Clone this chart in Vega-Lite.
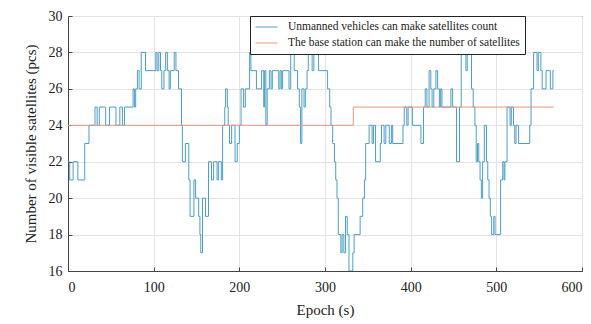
{
  "$schema": "https://vega.github.io/schema/vega-lite/v6.json",
  "width": 514,
  "height": 255,
  "autosize": {"type": "none"},
  "padding": {"left": 68, "top": 16, "right": 9, "bottom": 53},
  "background": "white",
  "config": {
    "view": {"stroke": "#333", "strokeWidth": 1},
    "font": "Liberation Serif",
    "axis": {
      "labelFont": "Liberation Serif",
      "titleFont": "Liberation Serif",
      "labelFontSize": 14,
      "titleFontSize": 15,
      "titleFontWeight": "normal",
      "labelColor": "#222",
      "titleColor": "#222",
      "gridColor": "#e3e3e3",
      "domainColor": "#444",
      "tickColor": "#444",
      "tickSize": -4,
      "labelPadding": 10
    },
    "legend": {
      "labelFont": "Liberation Serif",
      "labelFontSize": 11,
      "labelColor": "#222"
    }
  },
  "data": {
    "values": [
      {"epoch": 0, "count": 22, "series": "Unmanned vehicles can make satellites count"},
      {"epoch": 2, "count": 21, "series": "Unmanned vehicles can make satellites count"},
      {"epoch": 6, "count": 22, "series": "Unmanned vehicles can make satellites count"},
      {"epoch": 11.5, "count": 21, "series": "Unmanned vehicles can make satellites count"},
      {"epoch": 19.5, "count": 23, "series": "Unmanned vehicles can make satellites count"},
      {"epoch": 24.5, "count": 24, "series": "Unmanned vehicles can make satellites count"},
      {"epoch": 31.5, "count": 25, "series": "Unmanned vehicles can make satellites count"},
      {"epoch": 34, "count": 24, "series": "Unmanned vehicles can make satellites count"},
      {"epoch": 36.5, "count": 25, "series": "Unmanned vehicles can make satellites count"},
      {"epoch": 44, "count": 24, "series": "Unmanned vehicles can make satellites count"},
      {"epoch": 48.5, "count": 25, "series": "Unmanned vehicles can make satellites count"},
      {"epoch": 56, "count": 24, "series": "Unmanned vehicles can make satellites count"},
      {"epoch": 60.5, "count": 25, "series": "Unmanned vehicles can make satellites count"},
      {"epoch": 63.5, "count": 24, "series": "Unmanned vehicles can make satellites count"},
      {"epoch": 66, "count": 25, "series": "Unmanned vehicles can make satellites count"},
      {"epoch": 76, "count": 26, "series": "Unmanned vehicles can make satellites count"},
      {"epoch": 77.5, "count": 25, "series": "Unmanned vehicles can make satellites count"},
      {"epoch": 79, "count": 26, "series": "Unmanned vehicles can make satellites count"},
      {"epoch": 81, "count": 27, "series": "Unmanned vehicles can make satellites count"},
      {"epoch": 83, "count": 26, "series": "Unmanned vehicles can make satellites count"},
      {"epoch": 85.5, "count": 28, "series": "Unmanned vehicles can make satellites count"},
      {"epoch": 90.5, "count": 27, "series": "Unmanned vehicles can make satellites count"},
      {"epoch": 102.5, "count": 28, "series": "Unmanned vehicles can make satellites count"},
      {"epoch": 104, "count": 27, "series": "Unmanned vehicles can make satellites count"},
      {"epoch": 106, "count": 28, "series": "Unmanned vehicles can make satellites count"},
      {"epoch": 108, "count": 27, "series": "Unmanned vehicles can make satellites count"},
      {"epoch": 109.5, "count": 26, "series": "Unmanned vehicles can make satellites count"},
      {"epoch": 112, "count": 27, "series": "Unmanned vehicles can make satellites count"},
      {"epoch": 114, "count": 28, "series": "Unmanned vehicles can make satellites count"},
      {"epoch": 116, "count": 27, "series": "Unmanned vehicles can make satellites count"},
      {"epoch": 118, "count": 26, "series": "Unmanned vehicles can make satellites count"},
      {"epoch": 119.5, "count": 27, "series": "Unmanned vehicles can make satellites count"},
      {"epoch": 124, "count": 28, "series": "Unmanned vehicles can make satellites count"},
      {"epoch": 126, "count": 27, "series": "Unmanned vehicles can make satellites count"},
      {"epoch": 129, "count": 26, "series": "Unmanned vehicles can make satellites count"},
      {"epoch": 132.5, "count": 24, "series": "Unmanned vehicles can make satellites count"},
      {"epoch": 133.5, "count": 22, "series": "Unmanned vehicles can make satellites count"},
      {"epoch": 137, "count": 23, "series": "Unmanned vehicles can make satellites count"},
      {"epoch": 141, "count": 21, "series": "Unmanned vehicles can make satellites count"},
      {"epoch": 142.5, "count": 19, "series": "Unmanned vehicles can make satellites count"},
      {"epoch": 147, "count": 21, "series": "Unmanned vehicles can make satellites count"},
      {"epoch": 149, "count": 20, "series": "Unmanned vehicles can make satellites count"},
      {"epoch": 152.5, "count": 19, "series": "Unmanned vehicles can make satellites count"},
      {"epoch": 154, "count": 18, "series": "Unmanned vehicles can make satellites count"},
      {"epoch": 155, "count": 17, "series": "Unmanned vehicles can make satellites count"},
      {"epoch": 157, "count": 20, "series": "Unmanned vehicles can make satellites count"},
      {"epoch": 160.5, "count": 19, "series": "Unmanned vehicles can make satellites count"},
      {"epoch": 164, "count": 22, "series": "Unmanned vehicles can make satellites count"},
      {"epoch": 167.5, "count": 21, "series": "Unmanned vehicles can make satellites count"},
      {"epoch": 170, "count": 22, "series": "Unmanned vehicles can make satellites count"},
      {"epoch": 174, "count": 21, "series": "Unmanned vehicles can make satellites count"},
      {"epoch": 175.5, "count": 22, "series": "Unmanned vehicles can make satellites count"},
      {"epoch": 179, "count": 21, "series": "Unmanned vehicles can make satellites count"},
      {"epoch": 180.5, "count": 24, "series": "Unmanned vehicles can make satellites count"},
      {"epoch": 183, "count": 25, "series": "Unmanned vehicles can make satellites count"},
      {"epoch": 184, "count": 26, "series": "Unmanned vehicles can make satellites count"},
      {"epoch": 186, "count": 25, "series": "Unmanned vehicles can make satellites count"},
      {"epoch": 187, "count": 24, "series": "Unmanned vehicles can make satellites count"},
      {"epoch": 188.5, "count": 23, "series": "Unmanned vehicles can make satellites count"},
      {"epoch": 191, "count": 24, "series": "Unmanned vehicles can make satellites count"},
      {"epoch": 195, "count": 22, "series": "Unmanned vehicles can make satellites count"},
      {"epoch": 197.5, "count": 23, "series": "Unmanned vehicles can make satellites count"},
      {"epoch": 200, "count": 24, "series": "Unmanned vehicles can make satellites count"},
      {"epoch": 202, "count": 26, "series": "Unmanned vehicles can make satellites count"},
      {"epoch": 205, "count": 25, "series": "Unmanned vehicles can make satellites count"},
      {"epoch": 207, "count": 26, "series": "Unmanned vehicles can make satellites count"},
      {"epoch": 212, "count": 28, "series": "Unmanned vehicles can make satellites count"},
      {"epoch": 213.5, "count": 27, "series": "Unmanned vehicles can make satellites count"},
      {"epoch": 220, "count": 26, "series": "Unmanned vehicles can make satellites count"},
      {"epoch": 226, "count": 27, "series": "Unmanned vehicles can make satellites count"},
      {"epoch": 228.5, "count": 25, "series": "Unmanned vehicles can make satellites count"},
      {"epoch": 229.5, "count": 27, "series": "Unmanned vehicles can make satellites count"},
      {"epoch": 231, "count": 24, "series": "Unmanned vehicles can make satellites count"},
      {"epoch": 232.5, "count": 26, "series": "Unmanned vehicles can make satellites count"},
      {"epoch": 235, "count": 27, "series": "Unmanned vehicles can make satellites count"},
      {"epoch": 237, "count": 26, "series": "Unmanned vehicles can make satellites count"},
      {"epoch": 238.5, "count": 27, "series": "Unmanned vehicles can make satellites count"},
      {"epoch": 246, "count": 26, "series": "Unmanned vehicles can make satellites count"},
      {"epoch": 247.5, "count": 27, "series": "Unmanned vehicles can make satellites count"},
      {"epoch": 249, "count": 26, "series": "Unmanned vehicles can make satellites count"},
      {"epoch": 250.5, "count": 27, "series": "Unmanned vehicles can make satellites count"},
      {"epoch": 258, "count": 26, "series": "Unmanned vehicles can make satellites count"},
      {"epoch": 260, "count": 28, "series": "Unmanned vehicles can make satellites count"},
      {"epoch": 264, "count": 27, "series": "Unmanned vehicles can make satellites count"},
      {"epoch": 268, "count": 26, "series": "Unmanned vehicles can make satellites count"},
      {"epoch": 270, "count": 25, "series": "Unmanned vehicles can make satellites count"},
      {"epoch": 271.5, "count": 23, "series": "Unmanned vehicles can make satellites count"},
      {"epoch": 273, "count": 26, "series": "Unmanned vehicles can make satellites count"},
      {"epoch": 275.5, "count": 25, "series": "Unmanned vehicles can make satellites count"},
      {"epoch": 277, "count": 26, "series": "Unmanned vehicles can make satellites count"},
      {"epoch": 279, "count": 27, "series": "Unmanned vehicles can make satellites count"},
      {"epoch": 280.5, "count": 28, "series": "Unmanned vehicles can make satellites count"},
      {"epoch": 285, "count": 27, "series": "Unmanned vehicles can make satellites count"},
      {"epoch": 287, "count": 28, "series": "Unmanned vehicles can make satellites count"},
      {"epoch": 292.5, "count": 27, "series": "Unmanned vehicles can make satellites count"},
      {"epoch": 303, "count": 26, "series": "Unmanned vehicles can make satellites count"},
      {"epoch": 305.5, "count": 25, "series": "Unmanned vehicles can make satellites count"},
      {"epoch": 307, "count": 24, "series": "Unmanned vehicles can make satellites count"},
      {"epoch": 309, "count": 23, "series": "Unmanned vehicles can make satellites count"},
      {"epoch": 311, "count": 22, "series": "Unmanned vehicles can make satellites count"},
      {"epoch": 312.5, "count": 21, "series": "Unmanned vehicles can make satellites count"},
      {"epoch": 314, "count": 20, "series": "Unmanned vehicles can make satellites count"},
      {"epoch": 315.5, "count": 18, "series": "Unmanned vehicles can make satellites count"},
      {"epoch": 318.5, "count": 17, "series": "Unmanned vehicles can make satellites count"},
      {"epoch": 320, "count": 18, "series": "Unmanned vehicles can make satellites count"},
      {"epoch": 322, "count": 17, "series": "Unmanned vehicles can make satellites count"},
      {"epoch": 324, "count": 19, "series": "Unmanned vehicles can make satellites count"},
      {"epoch": 326, "count": 18, "series": "Unmanned vehicles can make satellites count"},
      {"epoch": 328, "count": 16, "series": "Unmanned vehicles can make satellites count"},
      {"epoch": 332.5, "count": 17, "series": "Unmanned vehicles can make satellites count"},
      {"epoch": 334, "count": 18, "series": "Unmanned vehicles can make satellites count"},
      {"epoch": 341, "count": 19, "series": "Unmanned vehicles can make satellites count"},
      {"epoch": 344, "count": 20, "series": "Unmanned vehicles can make satellites count"},
      {"epoch": 346, "count": 21, "series": "Unmanned vehicles can make satellites count"},
      {"epoch": 347.5, "count": 23, "series": "Unmanned vehicles can make satellites count"},
      {"epoch": 351.5, "count": 24, "series": "Unmanned vehicles can make satellites count"},
      {"epoch": 355, "count": 23, "series": "Unmanned vehicles can make satellites count"},
      {"epoch": 356.5, "count": 24, "series": "Unmanned vehicles can make satellites count"},
      {"epoch": 359, "count": 22, "series": "Unmanned vehicles can make satellites count"},
      {"epoch": 364.5, "count": 23, "series": "Unmanned vehicles can make satellites count"},
      {"epoch": 366, "count": 24, "series": "Unmanned vehicles can make satellites count"},
      {"epoch": 369, "count": 23, "series": "Unmanned vehicles can make satellites count"},
      {"epoch": 371, "count": 24, "series": "Unmanned vehicles can make satellites count"},
      {"epoch": 375, "count": 23, "series": "Unmanned vehicles can make satellites count"},
      {"epoch": 377.5, "count": 24, "series": "Unmanned vehicles can make satellites count"},
      {"epoch": 379, "count": 23, "series": "Unmanned vehicles can make satellites count"},
      {"epoch": 391, "count": 24, "series": "Unmanned vehicles can make satellites count"},
      {"epoch": 392.5, "count": 25, "series": "Unmanned vehicles can make satellites count"},
      {"epoch": 395.5, "count": 24, "series": "Unmanned vehicles can make satellites count"},
      {"epoch": 397, "count": 25, "series": "Unmanned vehicles can make satellites count"},
      {"epoch": 402, "count": 24, "series": "Unmanned vehicles can make satellites count"},
      {"epoch": 412, "count": 23, "series": "Unmanned vehicles can make satellites count"},
      {"epoch": 415, "count": 25, "series": "Unmanned vehicles can make satellites count"},
      {"epoch": 417, "count": 26, "series": "Unmanned vehicles can make satellites count"},
      {"epoch": 419, "count": 25, "series": "Unmanned vehicles can make satellites count"},
      {"epoch": 421.5, "count": 27, "series": "Unmanned vehicles can make satellites count"},
      {"epoch": 423.5, "count": 26, "series": "Unmanned vehicles can make satellites count"},
      {"epoch": 425, "count": 25, "series": "Unmanned vehicles can make satellites count"},
      {"epoch": 427, "count": 26, "series": "Unmanned vehicles can make satellites count"},
      {"epoch": 429.5, "count": 27, "series": "Unmanned vehicles can make satellites count"},
      {"epoch": 431.5, "count": 26, "series": "Unmanned vehicles can make satellites count"},
      {"epoch": 433.5, "count": 25, "series": "Unmanned vehicles can make satellites count"},
      {"epoch": 435, "count": 26, "series": "Unmanned vehicles can make satellites count"},
      {"epoch": 436.5, "count": 25, "series": "Unmanned vehicles can make satellites count"},
      {"epoch": 447, "count": 26, "series": "Unmanned vehicles can make satellites count"},
      {"epoch": 449, "count": 25, "series": "Unmanned vehicles can make satellites count"},
      {"epoch": 453.5, "count": 22, "series": "Unmanned vehicles can make satellites count"},
      {"epoch": 457, "count": 25, "series": "Unmanned vehicles can make satellites count"},
      {"epoch": 459, "count": 28, "series": "Unmanned vehicles can make satellites count"},
      {"epoch": 464.5, "count": 27, "series": "Unmanned vehicles can make satellites count"},
      {"epoch": 466, "count": 28, "series": "Unmanned vehicles can make satellites count"},
      {"epoch": 471, "count": 26, "series": "Unmanned vehicles can make satellites count"},
      {"epoch": 473, "count": 25, "series": "Unmanned vehicles can make satellites count"},
      {"epoch": 475, "count": 24, "series": "Unmanned vehicles can make satellites count"},
      {"epoch": 476.5, "count": 22, "series": "Unmanned vehicles can make satellites count"},
      {"epoch": 478, "count": 23, "series": "Unmanned vehicles can make satellites count"},
      {"epoch": 479.5, "count": 22, "series": "Unmanned vehicles can make satellites count"},
      {"epoch": 481, "count": 21, "series": "Unmanned vehicles can make satellites count"},
      {"epoch": 482.5, "count": 20, "series": "Unmanned vehicles can make satellites count"},
      {"epoch": 484, "count": 22, "series": "Unmanned vehicles can make satellites count"},
      {"epoch": 486, "count": 24, "series": "Unmanned vehicles can make satellites count"},
      {"epoch": 488.5, "count": 22, "series": "Unmanned vehicles can make satellites count"},
      {"epoch": 490, "count": 21, "series": "Unmanned vehicles can make satellites count"},
      {"epoch": 491.5, "count": 20, "series": "Unmanned vehicles can make satellites count"},
      {"epoch": 493, "count": 19, "series": "Unmanned vehicles can make satellites count"},
      {"epoch": 494.5, "count": 18, "series": "Unmanned vehicles can make satellites count"},
      {"epoch": 497, "count": 19, "series": "Unmanned vehicles can make satellites count"},
      {"epoch": 498.5, "count": 18, "series": "Unmanned vehicles can make satellites count"},
      {"epoch": 505, "count": 21, "series": "Unmanned vehicles can make satellites count"},
      {"epoch": 507.5, "count": 22, "series": "Unmanned vehicles can make satellites count"},
      {"epoch": 509, "count": 21, "series": "Unmanned vehicles can make satellites count"},
      {"epoch": 510, "count": 22, "series": "Unmanned vehicles can make satellites count"},
      {"epoch": 512.5, "count": 25, "series": "Unmanned vehicles can make satellites count"},
      {"epoch": 516, "count": 24, "series": "Unmanned vehicles can make satellites count"},
      {"epoch": 517.5, "count": 25, "series": "Unmanned vehicles can make satellites count"},
      {"epoch": 520, "count": 24, "series": "Unmanned vehicles can make satellites count"},
      {"epoch": 521.5, "count": 23, "series": "Unmanned vehicles can make satellites count"},
      {"epoch": 523, "count": 24, "series": "Unmanned vehicles can make satellites count"},
      {"epoch": 526, "count": 23, "series": "Unmanned vehicles can make satellites count"},
      {"epoch": 539, "count": 24, "series": "Unmanned vehicles can make satellites count"},
      {"epoch": 540.5, "count": 26, "series": "Unmanned vehicles can make satellites count"},
      {"epoch": 543.5, "count": 28, "series": "Unmanned vehicles can make satellites count"},
      {"epoch": 547.5, "count": 27, "series": "Unmanned vehicles can make satellites count"},
      {"epoch": 549, "count": 28, "series": "Unmanned vehicles can make satellites count"},
      {"epoch": 552, "count": 27, "series": "Unmanned vehicles can make satellites count"},
      {"epoch": 553.5, "count": 26, "series": "Unmanned vehicles can make satellites count"},
      {"epoch": 558, "count": 27, "series": "Unmanned vehicles can make satellites count"},
      {"epoch": 563, "count": 26, "series": "Unmanned vehicles can make satellites count"},
      {"epoch": 566, "count": 27, "series": "Unmanned vehicles can make satellites count"},
      {"epoch": 567, "count": 27, "series": "Unmanned vehicles can make satellites count"},
      {"epoch": 0, "count": 24, "series": "The base station can make the number of satellites"},
      {"epoch": 333, "count": 25, "series": "The base station can make the number of satellites"},
      {"epoch": 567, "count": 25, "series": "The base station can make the number of satellites"}
    ]
  },
  "mark": {"type": "line", "interpolate": "step-after", "strokeWidth": 1, "clip": true},
  "encoding": {
    "x": {
      "field": "epoch",
      "type": "quantitative",
      "scale": {"domain": [0, 600], "nice": false},
      "axis": {"values": [0, 100, 200, 300, 400, 500, 600], "title": "Epoch (s)", "titlePadding": 8, "labelPadding": 13}
    },
    "y": {
      "field": "count",
      "type": "quantitative",
      "scale": {"domain": [16, 30], "nice": false, "zero": false},
      "axis": {"values": [16, 18, 20, 22, 24, 26, 28, 30], "title": "Number of visible satellites (pcs)", "titlePadding": 10}
    },
    "color": {
      "field": "series",
      "type": "nominal",
      "sort": null,
      "scale": {
        "domain": ["Unmanned vehicles can make satellites count", "The base station can make the number of satellites"],
        "range": ["#4a9fc9", "#e9967a"]
      },
      "legend": {
        "title": null,
        "orient": "none",
        "legendX": 182,
        "legendY": 0,
        "strokeColor": "#222",
        "fillColor": "white",
        "padding": 5,
        "cornerRadius": 0,
        "symbolType": "stroke",
        "symbolSize": 484,
        "symbolStrokeWidth": 1,
        "labelOffset": 10,
        "rowPadding": 4,
        "clipHeight": 12,
        "labelLimit": 400,
        "labelFont": "Liberation Serif",
        "labelFontSize": 11.5,
        "labelColor": "#222"
      }
    }
  }
}
